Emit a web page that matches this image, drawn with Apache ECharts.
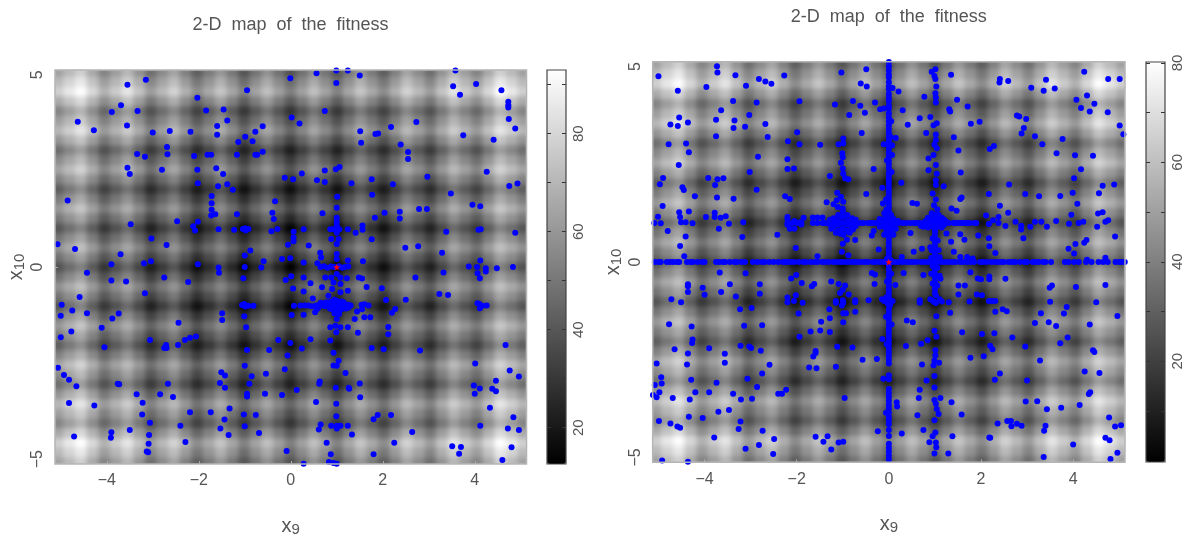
<!DOCTYPE html>
<html><head><meta charset="utf-8">
<style>html,body{margin:0;padding:0;background:#fff}#c{width:1185px;height:539px}</style>
<script src="https://cdn.jsdelivr.net/npm/echarts@6/dist/echarts.min.js"></script>
</head><body><div id="c"></div>
<script>
const titleText='2-D  map  of  the  fitness';
const xTicks=[-4,-2,0,2,4], yTicks=[-5,0,5];
const leftBarLabels=[20,40,60,80], leftBarTicks=[20,30,40,50,60,70,80,90];
const rightBarLabels=[20,40,60,80], rightBarTicks=[10,20,30,40,50,60,70,80];
const gridCats=[-5,-4.75,-4.5,-4.25,-4,-3.75,-3.5,-3.25,-3,-2.75,-2.5,-2.25,-2,-1.75,-1.5,-1.25,-1,-.75,-.5,-.25,0,.25,.5,.75,1,1.25,1.5,1.75,2,2.25,2.5,2.75,3,3.25,3.5,3.75,4,4.25,4.5,4.75,5];
// fitness read from the grey level, rows x10=5 down to x10=0; the map is mirror-symmetric about x10=0
const leftFitnessTop=[
[63,71,78,66,54,62,70,59,47,56,64,53,42,51,60,50,39,49,58,48,38,48,58,49,39,50,60,51,42,53,64,56,47,59,70,62,54,66,78,71,63],
[71,79,86,74,62,70,78,67,55,64,72,61,50,59,68,58,47,57,66,56,46,56,66,57,47,58,68,59,50,61,72,64,55,67,78,70,62,74,86,79,71],
[78,86,93,81,69,77,85,74,62,71,79,68,57,66,75,65,54,64,73,63,53,63,73,64,54,65,75,66,57,68,79,71,62,74,85,77,69,81,93,86,78],
[66,74,81,69,57,65,73,62,50,59,67,56,45,54,63,53,42,52,61,51,41,51,61,52,42,53,63,54,45,56,67,59,50,62,73,65,57,69,81,74,66],
[54,62,69,57,45,53,61,50,38,47,55,44,33,42,51,41,30,40,49,39,29,39,49,40,30,41,51,42,33,44,55,47,38,50,61,53,45,57,69,62,54],
[62,70,77,65,53,61,69,58,46,55,63,52,41,50,59,49,38,48,57,47,37,47,57,48,38,49,59,50,41,52,63,55,46,58,69,61,53,65,77,70,62],
[70,78,85,73,61,69,77,66,54,63,71,60,49,58,67,57,46,56,65,55,45,55,65,56,46,57,67,58,49,60,71,63,54,66,77,69,61,73,85,78,70],
[59,67,74,62,50,58,66,55,43,52,60,49,38,47,56,46,35,45,54,44,34,44,54,45,35,46,56,47,38,49,60,52,43,55,66,58,50,62,74,67,59],
[47,55,62,50,38,46,54,43,31,40,48,37,26,35,44,34,23,33,42,32,22,32,42,33,23,34,44,35,26,37,48,40,31,43,54,46,38,50,62,55,47],
[56,64,71,59,47,55,63,52,40,49,57,46,35,44,53,43,32,42,51,41,31,41,51,42,32,43,53,44,35,46,57,49,40,52,63,55,47,59,71,64,56],
[64,72,79,67,55,63,71,60,48,57,65,54,43,52,61,51,40,50,59,49,39,49,59,50,40,51,61,52,43,54,65,57,48,60,71,63,55,67,79,72,64],
[53,61,68,56,44,52,60,49,37,46,54,43,32,41,50,40,29,39,48,38,28,38,48,39,29,40,50,41,32,43,54,46,37,49,60,52,44,56,68,61,53],
[42,50,57,45,33,41,49,38,26,35,43,32,21,30,39,29,18,28,37,27,17,27,37,28,18,29,39,30,21,32,43,35,26,38,49,41,33,45,57,50,42],
[51,59,66,54,42,50,58,47,35,44,52,41,30,39,48,38,27,37,46,36,26,36,46,37,27,38,48,39,30,41,52,44,35,47,58,50,42,54,66,59,51],
[60,68,75,63,51,59,67,56,44,53,61,50,39,48,57,47,36,46,55,45,35,45,55,46,36,47,57,48,39,50,61,53,44,56,67,59,51,63,75,68,60],
[50,58,65,53,41,49,57,46,34,43,51,40,29,38,47,37,26,36,45,35,25,35,45,36,26,37,47,38,29,40,51,43,34,46,57,49,41,53,65,58,50],
[39,47,54,42,30,38,46,35,23,32,40,29,18,27,36,26,15,25,34,24,14,24,34,25,15,26,36,27,18,29,40,32,23,35,46,38,30,42,54,47,39],
[49,57,64,52,40,48,56,45,33,42,50,39,28,37,46,36,25,35,44,34,24,34,44,35,25,36,46,37,28,39,50,42,33,45,56,48,40,52,64,57,49],
[58,66,73,61,49,57,65,54,42,51,59,48,37,46,55,45,34,44,53,43,33,43,53,44,34,45,55,46,37,48,59,51,42,54,65,57,49,61,73,66,58],
[48,56,63,51,39,47,55,44,32,41,49,38,27,36,45,35,24,34,43,33,23,33,43,34,24,35,45,36,27,38,49,41,32,44,55,47,39,51,63,56,48],
[38,46,53,41,29,37,45,34,22,31,39,28,17,26,35,25,14,24,33,23,13,23,33,24,14,25,35,26,17,28,39,31,22,34,45,37,29,41,53,46,38]];
const rightFitnessTop=[
[50,58,65,53,41,49,57,46,34,43,51,40,29,38,47,37,26,36,45,35,25,35,45,36,26,37,47,38,29,40,51,43,34,46,57,49,41,53,65,58,50],
[58,66,73,61,49,57,65,54,42,51,59,48,37,46,55,45,34,44,53,43,33,43,53,44,34,45,55,46,37,48,59,51,42,54,65,57,49,61,73,66,58],
[65,73,80,68,56,64,72,61,49,58,66,55,44,53,62,52,41,51,60,50,40,50,60,51,41,52,62,53,44,55,66,58,49,61,72,64,56,68,80,73,65],
[53,61,68,56,44,52,60,49,37,46,54,43,32,41,50,40,29,39,48,38,28,38,48,39,29,40,50,41,32,43,54,46,37,49,60,52,44,56,68,61,53],
[41,49,56,44,32,40,48,37,25,34,42,31,20,29,38,28,17,27,36,26,16,26,36,27,17,28,38,29,20,31,42,34,25,37,48,40,32,44,56,49,41],
[49,57,64,52,40,48,56,45,33,42,50,39,28,37,46,36,25,35,44,34,24,34,44,35,25,36,46,37,28,39,50,42,33,45,56,48,40,52,64,57,49],
[57,65,72,60,48,56,64,53,41,50,58,47,36,45,54,44,33,43,52,42,32,42,52,43,33,44,54,45,36,47,58,50,41,53,64,56,48,60,72,65,57],
[46,54,61,49,37,45,53,42,30,39,47,36,25,34,43,33,22,32,41,31,21,31,41,32,22,33,43,34,25,36,47,39,30,42,53,45,37,49,61,54,46],
[34,42,49,37,25,33,41,30,18,27,35,24,13,22,31,21,10,20,29,19,9,19,29,20,10,21,31,22,13,24,35,27,18,30,41,33,25,37,49,42,34],
[43,51,58,46,34,42,50,39,27,36,44,33,22,31,40,30,19,29,38,28,18,28,38,29,19,30,40,31,22,33,44,36,27,39,50,42,34,46,58,51,43],
[51,59,66,54,42,50,58,47,35,44,52,41,30,39,48,38,27,37,46,36,26,36,46,37,27,38,48,39,30,41,52,44,35,47,58,50,42,54,66,59,51],
[40,48,55,43,31,39,47,36,24,33,41,30,19,28,37,27,16,26,35,25,15,25,35,26,16,27,37,28,19,30,41,33,24,36,47,39,31,43,55,48,40],
[29,37,44,32,20,28,36,25,13,22,30,19,8,17,26,16,5,15,24,14,4,14,24,15,5,16,26,17,8,19,30,22,13,25,36,28,20,32,44,37,29],
[38,46,53,41,29,37,45,34,22,31,39,28,17,26,35,25,14,24,33,23,13,23,33,24,14,25,35,26,17,28,39,31,22,34,45,37,29,41,53,46,38],
[47,55,62,50,38,46,54,43,31,40,48,37,26,35,44,34,23,33,42,32,22,32,42,33,23,34,44,35,26,37,48,40,31,43,54,46,38,50,62,55,47],
[37,45,52,40,28,36,44,33,21,30,38,27,16,25,34,24,13,23,32,22,12,22,32,23,13,24,34,25,16,27,38,30,21,33,44,36,28,40,52,45,37],
[26,34,41,29,17,25,33,22,10,19,27,16,5,14,23,13,2,12,21,11,1,11,21,12,2,13,23,14,5,16,27,19,10,22,33,25,17,29,41,34,26],
[36,44,51,39,27,35,43,32,20,29,37,26,15,24,33,23,12,22,31,21,11,21,31,22,12,23,33,24,15,26,37,29,20,32,43,35,27,39,51,44,36],
[45,53,60,48,36,44,52,41,29,38,46,35,24,33,42,32,21,31,40,30,20,30,40,31,21,32,42,33,24,35,46,38,29,41,52,44,36,48,60,53,45],
[35,43,50,38,26,34,42,31,19,28,36,25,14,23,32,22,11,21,30,20,10,20,30,21,11,22,32,23,14,25,36,28,19,31,42,34,26,38,50,43,35],
[25,33,40,28,16,24,32,21,9,18,26,15,4,13,22,12,1,11,20,10,0,10,20,11,1,12,22,13,4,15,26,18,9,21,32,24,16,28,40,33,25]];
const leftBest=[[1,0]], rightBest=[[0,0]];
const leftPoints=[[-3.55,4.74],[-3.15,4.87],[-2.03,4.4],[-.95,4.6],[-.01,4.91],[-3.69,4.21],[-3.89,4.03],[-3.33,4.06],[-1.84,4.07],[-1.46,4.1],[-4.63,3.78],[-4.28,3.56],[-3.56,3.68],[-3,3.5],[-2.63,3.54],[-2.18,3.52],[-1.6,3.67],[-1.6,3.44],[-1.38,3.81],[-.61,3.66],[-.77,3.52],[-.99,3.39],[-.83,3.27],[-1.14,3.25],[.02,3.89],[.19,3.73],[-2.69,3.12],[-2.68,2.93],[-3.34,2.94],[-3.17,2.87],[-2.1,2.89],[-1.81,2.92],[-1.73,2.92],[-1.17,2.92],[-.77,2.92],[-.73,2.92],[-.61,3],[-3.55,2.58],[-3.5,2.42],[-2.8,2.53],[-2.03,2.53],[-1.62,2.57],[-1.47,2.42],[-.13,2.32],[.05,2.28],[-2.02,2.18],[-1.58,2.1],[-1.38,2.15],[-1.26,2.01],[-4.85,1.73],[-1.72,1.85],[-1.72,1.66],[-1.72,1.49],[-1.73,1.34],[-1.64,1.37],[-1.17,1.37],[-.34,1.71],[-.4,1.41],[-.37,1.25],[-3.48,1.11],[-2.47,1.19],[-2.02,1.18],[-2.12,1.06],[-2.08,.95],[-1.57,.98],[-1.23,.97],[-.99,1.01],[-1.04,.99],[-.92,.99],[-.98,.95],[-.42,.93],[-.29,.99],[.06,.92],[.06,.77],[.06,.67],[-.06,.58],[-3.03,.74],[-5.07,.59],[-4.69,.47],[-2.7,.57],[-3.7,.33],[-.88,.43],[-1,.3],[-3.19,.1],[-3.04,.15],[-3.9,.07],[-2.02,.07],[-1.57,-.01],[-1,0],[-.64,-.01],[-.59,.15],[-.19,.21],[-.01,.23],
[-4.43,-.15],[-3.9,-.35],[-3.58,-.38],[-2.75,-.27],[-2.23,-.39],[-1.56,-.15],[-1.03,-.29],[-.11,-.34],[.01,-.24],[.05,-.56],[-3.17,-.68],[-4.59,-.78],[-4.98,-.98],[-1.06,-.99],[-1.01,-.96],[-.92,-1.01],[-.81,-1.01],[-.99,-1.03],[.07,-1.01],[-4.75,-1.13],[-5,-1.27],[-4.43,-1.2],[-3.74,-1.21],[-3.88,-1.34],[-1.49,-1.2],[-1.49,-1.38],[-1.01,-1.28],[.02,-1.25],[-2.44,-1.45],[-4.11,-1.58],[-.97,-1.57],[-4.77,-1.68],[-5,-1.83],[-3.06,-1.9],[-2.06,-1.81],[-2.19,-1.84],[-2.3,-1.9],[-2.45,-2.03],[-2.71,-2.03],[-2.75,-2.11],[-2.7,-2.11],[-4.05,-2.09],[-.95,-2.16],[-.47,-2.16],[-.27,-1.9],[-.01,-1.98],[-.07,-2.3],[-5.06,-2.62],[-4.93,-2.81],[-4.82,-2.93],[-4.66,-3.1],[-3.76,-3.04],[-3.73,-3.05],[-2.67,-3.04],[-1.51,-2.74],[-1.43,-2.82],[-1.54,-3.02],[-1.43,-3.14],[-1,-2.57],[-.85,-2.84],[-.9,-3.04],[-.95,-3.3],[-.95,-3.37],[-.54,-2.78],[-.13,-2.66],[-.56,-3.3],[-.19,-3.33],[.13,-3.2],[-3.35,-3.31],[-2.84,-3.31],[-2.56,-3.38],[-3.22,-3.53],[-4.82,-3.54],[-4.27,-3.6],[-3.23,-3.84],[-2.19,-3.78],[-1.74,-3.78],[-1.33,-3.68],[-1.44,-3.97],[-1.02,-3.84],[-.76,-3.85],[-3.06,-4.05],[-2.4,-4.13],[-1.53,-4.2],[-1,-4.14],[-3.5,-4.24],[-3.9,-4.3],[-3.91,-4.44],[-4.71,-4.41],[-3.08,-4.37],[-1.35,-4.37],[-.69,-4.32],[-3.09,-4.6],[-2.29,-4.55],[-3.13,-4.8],[-3.1,-4.82],[-.09,-4.79],
[.56,5.04],[.99,5.11],[1.24,5.11],[1.5,4.98],[.99,4.79],[3.58,5.11],[3.53,4.7],[3.68,4.48],[4.03,4.76],[4.58,4.6],[4.73,4.3],[4.73,4.21],[4.73,4.15],[4.74,3.85],[4.88,3.6],[.74,4.06],[1.51,3.53],[1.84,3.46],[1.9,3.47],[2.18,3.64],[2.73,3.77],[3.75,3.43],[4.41,3.31],[1.53,3.23],[2.39,3.19],[2.55,2.99],[2.55,2.81],[.74,2.51],[.98,2.54],[1.06,2.6],[.24,2.43],[.57,2.26],[.74,2.21],[1.32,2.18],[1.76,2.28],[2.22,2.15],[2.97,2.35],[4.26,2.48],[4.75,2.11],[4.93,2.17],[1.01,1.83],[1.77,1.88],[3.48,1.91],[3.95,1.62],[4.12,1.58],[1,1.54],[.69,1.4],[2.04,1.41],[2.37,1.44],[2.37,1.26],[2.79,1.51],[2.96,1.51],[1.83,1.28],[1,1.28],[1,1.17],[.86,.98],[.93,.98],[1,.98],[1.06,.98],[1,1.08],[1,.89],[.28,.98],[1.24,.98],[1.56,1.08],[1.56,.97],[1.41,.89],[1.76,.72],[.88,.73],[1.04,.73],[1,.6],[.39,.56],[.64,.37],[.66,.25],[2.49,.5],[2.77,.54],[3.29,.37],[3.38,.92],[4.08,.97],[4.13,.98],[4.88,.89],[4.12,.17],[3.87,.01],[4.05,0],[4.24,-.03],[4.48,-.03],[4.83,0],[1.57,.15],[1,.34],[1,.21],[.58,.1],[1.24,.17],[.28,.12],[.65,0],[.72,.02],[.8,-.02],[.88,.01],[.95,0],[1.05,.02],[1.12,-.02],[1.18,0],[1.25,.01],
[.21,-1],[.3,-1],[.38,-1],[.46,-1.02],[.55,-1],[.62,-.98],[.7,-1],[.75,-1.02],[.8,-1],[.85,-.98],[.9,-1.02],[.95,-1],[1,-1],[1.05,-.98],[1.1,-1.02],[1.15,-1],[1.2,-1],[1.25,-.98],[1.3,-1],[1,-.88],[1,-1.12],[.95,-1.2],[1.05,-1.22],[1,-1.35],[.9,-.9],[1.1,-.9],[.9,-1.1],[1.1,-1.1],[.85,-1.08],[1.15,-.92],[.95,-.85],[1.05,-1.15],[.8,-.92],[1.2,-1.08],[.75,-.93],[1.25,-1.06],[.65,-.93],[.6,-1.06],[1,-.18],[.88,-.27],[1.08,-.27],[.75,-.27],[.93,-.4],[1.08,-.44],[.9,-.57],[1.08,-.66],[1.24,-.62],[.68,-.53],[.43,-.42],[.28,-.64],[.48,-.82],[.82,-.75],[.28,-.27],[1.22,-.29],[1.48,-.27],[1.55,-.3],[1.65,-.52],[1.98,-.55],[2.07,-.86],[2.5,-.85],[2.71,-.27],[3.23,-.7],[3.42,-.73],[3.32,-.14],[4.06,-.16],[4.11,-.29],[4.24,-.12],[4.06,-.94],[4.1,-.96],[4.16,-1.01],[4.26,-1],[4.11,-1.07],[1.44,-1.16],[1.54,-.98],[1.6,-.97],[1.69,-1],[1.55,-1.1],[2.27,-1.09],[2.2,-1.19],[.28,-1.24],[.53,-1.18],[.57,-1.09],[1.39,-1.35],[1.6,-1.31],[1.73,-1.31],[.86,-1.57],[.97,-1.53],[1.08,-1.57],[1.24,-1.57],[1.46,-1.71],[2.12,-1.56],[2.12,-1.75],[.99,-1.7],[.43,-1.88],[.86,-1.91],[.24,-2.12],[.93,-2.23],[1.76,-2.11],[2.02,-2.14],[2.81,-2.17],[4.67,-2.03],[1.04,-2.44],[.93,-2.56],[1,-2.57],[1.19,-2.76],[4.01,-2.51],[4.76,-2.69],[4.96,-2.85],[4.46,-2.96],[.63,-2.98],[.62,-3.04],[1.5,-3.03],[.98,-3.14],[1.26,-3.14],[1.27,-3.17],[3.98,-3.08],[4.11,-3.16],[4,-3.3],[4.38,-3.17],[4.46,-3.23],[1.51,-3.39],[.55,-3.51],[.99,-3.56],[4.33,-3.66],[1.89,-3.85],[1.8,-3.96],[2.18,-3.85],[.99,-3.88],[4.84,-3.91],[.65,-4.1],[.61,-4.23],[.88,-4.13],[1,-4.13],[1.08,-4.13],[1,-4.2],[1.24,-4.13],[4.12,-4.13],[4.72,-4.2],[4.96,-4.24],[1.33,-4.36],[2.64,-4.29],[.78,-4.57],[2.25,-4.57],[3.51,-4.66],[3.7,-4.68],[3.66,-4.86],[4.8,-4.69],[.87,-4.87],[1.8,-4.87],[4.6,-5.02],[.83,-5.07],[.93,-5.1],[1,-5.12],[.28,-5.12]];
const rightRowZeroX=[-5.08,-5,-4.95,-4.82,-4.75,-4.68,-4.6,-4.55,-4.38,-4.3,-4.25,-4.15,-4.05,-4,-3.75,-3.68,-3.6,-3.55,-3.45,-3.35,-3.3,-3.2,-3.12,-2.95,-2.85,-2.75,-2.7,-2.6,-2.5,-2.4,-2.3,-2.25,-2.2,-2.12,-2.05,-1.95,-1.85,-1.8,-1.7,-1.62,-1.55,-1.45,-1.38,-1.3,-1.2,-1.12,-1.05,-.98,-.9,-.82,-.75,-.68,-.6,-.52,-.45,-.35,-.28,-.2,-.12,-.05,.08,.15,.22,.3,.38,.45,.52,.6,.7,.78,.85,.92,1,1.08,1.15,1.22,1.3,1.38,1.45,1.55,1.62,1.7,1.78,1.85,1.98,2.05,2.12,2.22,2.3,2.38,2.45,2.5,2.6,2.68,2.75,2.85,2.95,3,3.12,3.18,3.25,3.35,3.4,3.52,3.82,3.9,4.02,4.12,4.28,4.4,4.55,4.65,4.75,4.92,5,5.05,5.12];
const rightColZeroY=[5.12,5,4.9,4.8,4.72,4.6,4.5,4.42,4.3,4.2,4.12,4,3.92,3.8,3.7,3.6,3.5,3.4,3.3,3.2,3.1,3,2.9,2.8,2.7,2.6,2.5,2.4,2.28,2.2,2.1,2,1.9,1.8,1.7,1.6,1.5,1.4,1.3,1.2,1.1,1,.9,.8,.7,.6,.5,.4,.3,.2,.1,-.1,-.2,-.3,-.4,-.5,-.6,-.7,-.8,-.9,-1,-1.1,-1.2,-1.3,-1.4,-1.5,-1.6,-1.7,-1.8,-1.9,-2,-2.1,-2.2,-2.3,-2.4,-2.5,-2.6,-2.9,-3,-3.25,-3.35,-3.45,-3.55,-3.65,-3.75,-3.85,-3.95,-4.05,-4.15,-4.3,-4.45,-4.65,-4.75,-4.85,-4.95,-5.05];
const rightRowOneX=[-2.2,-2.1,-2,-1.9,-1.65,-1.55,-1.44,-1.38,-1.3,-1.25,-.72,-.62,-.55,-.45,-.4,-.35,-.28,-.2,-.15,-.1,.1,.15,.21,.3,.38,.47,.55,.6,.67,.75,.82,1.3,1.4,1.45,1.5,1.55,1.6,1.65,1.7,1.75,1.85,1.9];
const rightColOneY=[.9,.8,.7,.6,.5,.4,.3,.2,.1,.05,-.05,-.1,-.2,-.3,-.4,-.5,-.6,-.7,-.8];
const rightPoints=[[-1,1],[-1.1,1.05],[-.9,1.05],[-1.1,.95],[-.9,.95],[-1.2,1],[-.8,1],[-1.3,.98],[-.7,1],[-1,1.15],[-1,.85],[-1.1,1.2],[-.9,1.2],[-1.1,.8],[-.9,.8],[-1,1.3],[-1.05,.72],[-1.2,.9],[-.8,.9],[-1.2,1.12],[-.8,1.12],[-1.25,.85],[-.78,.83],[-1.15,.75],[-.85,.75],[-.98,.7],[-1.28,1.08],[-.72,1.08],[-.72,.92],[-2.2,1.1],[-2.2,.95],[-2.15,.85],[-2.05,.85],[-2.05,1.05],[-1.93,1.02],[-1.85,1.13],[-1.65,1.14],[-1.55,1.14],[-1.44,1.14],[-2.2,1.15],[-1.9,.96],[-.1,1.1],[-.1,.9],[.1,1.1],[.1,.9],[-.05,1.2],[.05,1.2],[-.05,.8],[.05,.8],[-.2,1.1],[.2,1.05],[-.2,.9],[.15,.85],[.1,.7],[-.1,1.25],[-.05,1.35],[-.1,.7],
[1,1],[.9,1],[1.1,1],[.95,1.1],[1.05,1.1],[.95,.9],[1.05,.9],[.85,1],[1.15,1],[1,1.2],[1,.8],[1.08,1.2],[.93,1.25],[.8,1.05],[1.2,.95],[1.25,1.03],[1.2,1.08],[.7,.92],[.75,.9],[.85,.88],[1.15,.88],[.85,1.13],[1.15,1.13],[.95,.6],[1.06,.55],[.93,.3],[1.08,.3],[.92,.1],[1.1,.12],[.95,-.1],[1.05,-.15],[.92,-.3],[1.1,-.35],[.95,-.55],[1.05,-.6],[1.02,-.85],[.9,-.95],[1.1,-.95],
[-.1,-1],[-.05,-.9],[.03,-1.1],[-.03,-1.05],[.08,-1],[-.15,-.95],[.04,0.05],[-.04,.08],[.05,3.6],[.04,3.2],[-.04,2.6],[.08,4.45],[.06,2.3],[-.06,1.6],[.05,-.3],[-.04,-.5],[.06,-1.6],[-.05,-2.1],[-.06,-1.4],
[-5,4.75],[-3.73,5.01],[-3.72,4.85],[-3.33,4.78],[-4.58,4.38],[-3.96,4.48],[-3.1,4.51],[-2.82,4.68],[-2.68,4.62],[-2.55,4.56],[-2.27,4.77],[-1.03,4.85],[-.49,4.93],[-.61,4.57],[-.48,4.49],[-3.38,4.12],[-3.64,3.88],[-2.87,4.08],[-3.03,3.76],[-1.94,4.11],[-1.17,4.03],[-.78,4.12],[-.62,4],[-.52,3.82],[-.86,3.76],[-.3,4.08],[-.19,3.91],[-.11,3.93],[-4.55,3.7],[-4.74,3.52],[-4.58,3.48],[-4.36,3.57],[-3.75,3.64],[-3.35,3.62],[-3.37,3.43],[-3.12,3.46],[-2.68,3.53],[-3.75,3.22],[-2.63,3.2],[-1.99,3.32],[-.59,3.3],[-4.78,3.01],[-4.4,3.03],[-4.34,2.81],[-2.19,3.09],[-1.94,3.01],[-1.49,3],[-1.09,3.01],[-.99,3.16],[-.99,3.03],[-.11,3.01],[-2.84,2.69],[-2.2,2.63],[-4.56,2.48],[-2.2,2.38],[-2.06,2.39],[-3.02,2.3],[-1.01,2.78],[-1,2.68],[-1.04,2.54],[-1,2.39],[-.99,2.26],[-.95,2.14],[-1.28,2.2],[-.88,2.12],[-.33,2.38],[-3.92,2.15],[-3.72,2.12],[-3.59,2.14],[-3.77,1.97],[-4.9,2.15],[-4.97,1.99],[-4.48,1.91],[-4.45,1.84],[-2.87,1.85],[-4.21,1.68],[-3.73,1.65],[-3.37,1.62],[-2.25,1.68],[-2.15,1.61],[-1.12,1.77],[-1.04,1.67],[-1.13,1.58],[-.99,1.54],[-1.2,1.48],[-1,1.37],[-1.11,1.41],[-1.35,1.53],[-.49,1.74],[-.14,1.9],[-.13,1.5],[-4.91,1.43],[-4.55,1.27],[-4.34,1.29],[-5.01,1.16],[-5.09,1],[-4.95,.99],[-4.53,1.15],[-4.51,1.02],[-4.41,1.02],[-4.26,.99],[-3.97,1.15],[-3.78,1.26],[-3.78,1.15],[-3.65,1.13],[-3.54,1.17],[-3.69,.85],[-3.47,.98],[-3.16,1.02],[-3.18,.64],[-4.8,.79],[-4.41,.65],[-4.53,.41],[-4.44,.15],[-2.42,.7],[-2.02,.36],[-1.55,.15],[-.33,.79],[-.37,.68],[-.73,.56],[-.91,.57],[-1,.47],[-.22,.32],[-1.02,.26],[-.88,.17],
[-3.67,-.27],[-3.11,-.29],[-4.36,-.57],[-4.36,-.62],[-4.36,-.77],[-4.04,-.66],[-4,-.84],[-3.45,-.57],[-3.64,-.77],[-3.32,-.88],[-2.8,-.57],[-2.8,-.81],[-4.72,-.95],[-4.51,-1.03],[-3.23,-1.21],[-2.98,-1.18],[-2.12,-.42],[-2.01,-.33],[-1.89,-.54],[-1.67,-.62],[-1.62,-.56],[-1.25,-.5],[-1.09,-.56],[-.95,-.6],[-1,-.71],[-1.06,-.79],[-.87,-.83],[-.31,-.56],[-.37,-.28],[-.3,-.32],[-2.2,-.91],[-2.2,-1.03],[-2.06,-1],[-2.02,-.85],[-1.87,-1.04],[-1.15,-1],[-1.15,-1.04],[-1,-.98],[-1.02,-1.11],[-.99,-1.04],[-.73,-.98],[-.73,-1.03],[-.44,-.98],[-.73,-1.27],[-1.96,-1.32],[-1.29,-1.21],[-1.28,-1.44],[-.99,-1.31],[-.93,-1.31],[-.99,-1.54],[-1.47,-1.53],[-4.77,-1.59],[-4.28,-1.65],[-3.14,-1.63],[-2.75,-1.62],[-1.7,-1.78],[-1.49,-1.75],[-1.28,-1.79],[-1.94,-1.91],[-4.26,-1.98],[-4.27,-2.07],[-4.65,-2.23],[-4.36,-2.34],[-3.9,-2.21],[-3.22,-2.14],[-3.03,-2.16],[-2.99,-2.2],[-2.78,-2.27],[-3.56,-2.35],[-3.56,-2.58],[-4.38,-2.62],[-5.04,-2.6],[-2.59,-2.63],[-1.12,-2.17],[-.79,-2.19],[-.14,-1.97],[-1.59,-2.28],[-1.59,-2.33],[-1.64,-2.42],[-.57,-2.5],[-.26,-2.48],[-1.73,-2.7],[-1.57,-2.72],[-1.15,-2.68],[-4.94,-2.95],[-4.93,-3.11],[-5.08,-3.15],[-4.98,-3.33],[-5.12,-3.4],[-5.04,-3.46],[-4.69,-3.48],[-4.29,-3.01],[-4.2,-3.33],[-4.32,-3.52],[-3.9,-3.33],[-3.74,-3.09],[-3.07,-2.99],[-2.75,-2.85],[-2.86,-3.2],[-3.38,-3.37],[-3.21,-3.52],[-2.97,-3.5],[-2.4,-3.37],[-2.32,-3.37],[-2.23,-3.27],[-.96,-3.48],[-.12,-2.99],[-4.99,-4.07],[-4.74,-4.13],[-4.59,-4.21],[-4.53,-4.24],[-4.34,-3.96],[-4.04,-3.99],[-3.7,-3.83],[-3.47,-3.79],[-3.22,-4.08],[-3.26,-4.27],[-2.74,-4.32],[-3.79,-4.49],[-3.11,-4.78],[-2.82,-4.68],[-2.49,-4.53],[-2.51,-4.91],[-1.59,-4.47],[-1.42,-4.6],[-1.33,-4.46],[-1.09,-4.62],[-.99,-4.6],[-1.25,-4.8],[-.24,-4.33],[-4.92,-5.08],[-4.36,-5.11],[-.06,-3.86],
[.93,4.87],[1.01,4.93],[.99,4.76],[1.01,4.68],[1.03,4.49],[1.01,4.32],[1.02,4.21],[1.02,4.08],[1.35,4.79],[.21,4.36],[.77,4.23],[1.48,4.15],[.3,3.88],[1.31,3.91],[1.33,3.85],[1.71,3.98],[.67,3.68],[.9,3.71],[.41,3.51],[1.04,3.55],[.97,3.5],[.81,3.3],[1.02,3.26],[1.41,3.19],[1.78,3.54],[1.97,3.59],[1.02,3.12],[.99,3],[1.04,2.91],[.97,2.74],[.86,2.65],[1.02,2.48],[.86,2.35],[1.04,2.26],[1.02,2.09],[1.02,1.97],[1.19,1.94],[1.51,2.85],[1.56,2.29],[.27,2.03],[.15,3.17],[.07,2.99],[.07,2.74],[2.41,4.68],[2.4,4.59],[2.59,4.63],[3.09,4.46],[3.36,4.38],[3.41,4.66],[3.6,4.44],[4.24,4.87],[4.76,4.68],[5.01,4.68],[4.3,4.26],[4.07,4.15],[4.46,4.05],[4.17,3.94],[4.36,3.85],[4.75,3.83],[5.01,3.49],[5.09,3.27],[2.78,3.75],[2.83,3.72],[2.98,3.66],[2.93,3.43],[2.88,3.29],[3.17,3.22],[3.33,3.01],[3.77,3.15],[3.64,2.78],[4.04,2.73],[4.43,2.72],[4.17,2.37],[2.19,2.89],[2.28,2.97],[4.02,2.14],[2.61,1.98],[2.17,1.74],[4.89,1.98],[4.64,1.95],[4.56,1.76],[3.99,1.77],[2.96,1.74],[3.26,1.68],[3.72,1.69],[4.09,1.49],[2.41,1.44],[2.59,1.26],[3.96,1.21],[4.54,1.24],[4.64,1.27],[.51,1.51],[.61,1.49],[1.55,1.61],[1.58,1.65],[1.36,1.37],[1.47,1.31],[2.11,1.19],[.95,1.75],[1.02,1.6],[.98,1.45],[1.05,1.35],[2.17,.97],[2.26,1.07],[2.38,1.15],[2.38,1],[2.53,.92],[2.75,1.03],[2.87,.93],[2.87,.83],[3.07,.9],[3.17,1.03],[3.31,1.03],[3.43,.9],[3.63,1.05],[3.91,.98],[4.12,1],[4.22,1.03],[4.52,.9],[4.7,1.03],[4.76,1.07],[.47,.74],[1.25,.73],[1.35,.52],[1.55,.71],[1.64,.57],[1.94,.68],[2.17,.61],[2.18,.4],[2.31,.23],[2.92,.61],[4.05,.46],[4.24,.49],[4.29,.56],[3.9,.34],[4.02,.22],[4.91,.65],[.72,.34],[.54,.26],[1.41,.26],[.9,.38],[1.55,.13],[1.7,.13],[1.82,.09],[4.3,.06],[4.7,.11],[.28,.13],
[.14,-.59],[1.51,-.6],[1.65,-.6],[1.51,-.83],[1.91,-.83],[2.02,-.85],[1.93,-.42],[2,-.44],[2.18,-.37],[2.18,-.44],[2.53,-.43],[1.77,-.26],[1.12,-.43],[.75,-.33],[.32,-.28],[3.49,-.66],[3.54,-.6],[4.06,-.64],[4.7,-.59],[.67,-.98],[.67,-1.04],[.99,-1.03],[1.02,-1.05],[.96,-1],[1.15,-1.01],[1.3,-1.03],[1.75,-1.01],[2.17,-1],[2.24,-1],[2.31,-1],[3.5,-1.02],[4.5,-1.03],[3.86,-1.15],[1.33,-1.3],[2.31,-1.27],[2.47,-1.21],[2.56,-1.26],[3.8,-1.32],[3.3,-1.31],[4.96,-1.38],[1.03,-1.39],[.39,-1.5],[.52,-1.54],[3.17,-1.56],[3.47,-1.54],[3.63,-1.64],[4.36,-1.6],[.99,-1.76],[1.03,-1.91],[.84,-2],[.7,-2.09],[.37,-2.15],[1.59,-1.8],[2.02,-1.84],[2.29,-1.82],[2.68,-1.93],[2.2,-2.14],[2.25,-2.23],[2.96,-2.16],[3.72,-2.08],[3.88,-1.93],[4.43,-2.26],[4.46,-2.3],[1.01,-2.26],[1.01,-2.39],[.99,-2.52],[.97,-2.64],[1.09,-2.58],[.72,-2.62],[1.77,-2.45],[2.06,-2.41],[3.28,-2.52],[.99,-2.92],[.82,-3.03],[2.3,-3.01],[2.41,-2.85],[3,-3.03],[4.25,-2.8],[4.57,-2.84],[.99,-3.21],[.67,-3.27],[.65,-3.48],[4.37,-3.33],[4.34,-3.38],[1.12,-3.48],[.99,-3.53],[1.02,-3.63],[1.04,-3.76],[1.08,-3.89],[1.36,-3.59],[.17,-3.59],[.18,-3.7],[2.97,-3.57],[3.22,-3.56],[3.43,-3.77],[3.74,-3.73],[4.14,-3.66],[.62,-3.92],[1.58,-3.9],[.99,-4.05],[2.36,-4.13],[2.57,-4.07],[2.65,-4.07],[2.66,-4.2],[2.78,-4.14],[2.88,-4.19],[3.4,-4.19],[3.37,-4.32],[4.78,-3.98],[4.91,-4.21],[5.04,-4.18],[.75,-4.3],[.28,-4.39],[1.01,-4.36],[.95,-4.46],[1.02,-4.62],[.88,-4.61],[1.03,-4.74],[1.38,-4.46],[2.18,-4.49],[2.2,-4.5],[4,-4.67],[4.7,-4.5],[4.79,-4.56],[.99,-4.9],[1.29,-4.9],[4.96,-4.88],[3.36,-4.99],[4.81,-5.04]];

const starPath='path://M50 0L61 35L98 35L68 57L79 91L50 70L21 91L32 57L2 35L39 35Z';
const font='"Liberation Sans"', ink='#555';
const minus=v=>String(v).replace('-','\u2212');
const table=top=>{const rows=[...top,...top.slice(0,-1).reverse()],d=[];
  rows.forEach((r,i)=>r.forEach((v,j)=>d.push([j,i,v])));return d;};
const nameRich={a:{fontFamily:font,fontSize:20,color:ink,padding:[0,0,7,0]},b:{fontFamily:font,fontSize:15,color:ink}};
const panels=[
 {rect:{left:55,top:70,width:471.5,height:394},bar:{left:547,top:70,width:19,height:394},range:[12.6,93],labels:leftBarLabels,ticks:leftBarTicks,fit:leftFitnessTop,best:leftBest,
  pts:leftPoints,cx:285.5,ty:11,xGap:52,yGap:22},
 {rect:{left:652.7,top:61.7,width:472.3,height:400.6},bar:{left:1146,top:62,width:19,height:400},range:[-.3,80.2],labels:rightBarLabels,ticks:rightBarTicks,fit:rightFitnessTop,best:rightBest,
  pts:[...rightPoints,...rightRowZeroX.map(x=>[x,0]),...rightColZeroY.map(y=>[0,y]),...rightRowOneX.map(x=>[x,1]),...rightColOneY.map(y=>[1,y])],cx:883.8,ty:3,xGap:52,yGap:22}];
const grid=[],xAxis=[],yAxis=[],series=[],visualMap=[],title=[];
const top1={zlevel:1}, free={outerBoundsMode:'none'}, over=3;
panels.forEach((p,k)=>{
  const g=grid.length,xi=xAxis.length,yi=yAxis.length,r=p.rect;
  title.push({...top1,text:titleText,left:p.cx,top:p.ty,textAlign:'center',textStyle:{fontFamily:font,fontSize:18,fontWeight:'normal',color:ink}});
  grid.push({...free,left:r.left-over,top:r.top-over,width:r.width+2*over,height:r.height+2*over});
  grid.push({...top1,...free,...r,show:true,borderColor:'#b4b4b4',borderWidth:1.5,backgroundColor:'transparent',z:5});
  grid.push({...top1,...free,...p.bar,show:true,borderColor:'#444',borderWidth:1.2,backgroundColor:'transparent',z:5});
  xAxis.push({gridIndex:g,type:'category',data:gridCats,show:false});
  yAxis.push({gridIndex:g,type:'category',data:gridCats,show:false});
  xAxis.push({...top1,gridIndex:g+1,type:'value',min:-5.125,max:5.125,position:'bottom',z:3,splitLine:{show:false},axisLine:{show:false,onZero:false},
    axisTick:{show:true,inside:true,length:3,customValues:xTicks,lineStyle:{color:'#aaa'}},
    axisLabel:{customValues:xTicks,formatter:minus,fontFamily:font,fontSize:16,color:ink,margin:9},
    name:'{a|x}{b|9}',nameLocation:'middle',nameGap:p.xGap,nameTextStyle:{rich:nameRich}});
  yAxis.push({...top1,gridIndex:g+1,type:'value',min:-5.125,max:5.125,position:'left',z:3,splitLine:{show:false},axisLine:{show:false,onZero:false},
    axisTick:{show:true,inside:true,length:3,customValues:yTicks,lineStyle:{color:'#aaa'}},
    axisLabel:{customValues:yTicks,formatter:minus,rotate:90,fontFamily:font,fontSize:16,color:ink,margin:9},
    name:'{a|x}{b|10}',nameLocation:'middle',nameRotate:90,nameGap:p.yGap,nameTextStyle:{rich:nameRich}});
  xAxis.push({gridIndex:g+2,type:'value',min:0,max:1,show:false});
  yAxis.push({...top1,gridIndex:g+2,type:'value',min:p.range[0],max:p.range[1],position:'left',z:3,splitLine:{show:false},axisLine:{show:false,onZero:false},
    axisTick:{show:true,inside:true,length:4,customValues:p.ticks,lineStyle:{color:'#333'}},axisLabel:{show:false}});
  yAxis.push({...top1,gridIndex:g+2,type:'value',min:p.range[0],max:p.range[1],position:'right',z:3,splitLine:{show:false},axisLine:{show:false,onZero:false},
    axisTick:{show:true,inside:true,length:4,customValues:p.ticks,lineStyle:{color:'#333'}},
    axisLabel:{customValues:p.labels,rotate:90,fontFamily:font,fontSize:15,color:ink,margin:5}});
  const hs=series.length;
  series.push({type:'heatmap',xAxisIndex:xi,yAxisIndex:yi,data:table(p.fit),silent:true,itemStyle:{borderWidth:0},emphasis:{disabled:true},progressive:0,animation:false});
  series.push({...top1,type:'scatter',xAxisIndex:xi+1,yAxisIndex:yi+1,data:p.pts,symbol:'circle',symbolSize:6,itemStyle:{color:'#0000ff',opacity:1},silent:true,animation:false,z:3});
  series.push({...top1,type:'scatter',xAxisIndex:xi+1,yAxisIndex:yi+1,data:p.best,symbol:starPath,symbolSize:7,itemStyle:{color:'#ff0000',opacity:1},silent:true,animation:false,z:4});
  series.push({...top1,type:'scatter',xAxisIndex:xi+2,yAxisIndex:yi+2,data:[],silent:true});
  visualMap.push({...top1,type:'continuous',seriesIndex:hs,min:p.range[0],max:p.range[1],left:p.bar.left,top:p.bar.top,itemWidth:p.bar.width,itemHeight:p.bar.height,padding:0,calculable:false,hoverLink:false,inRange:{color:['#000000','#ffffff']},z:1});
});
const chart=echarts.init(document.getElementById('c'),null,{renderer:'canvas'});
chart.setOption({animation:false,backgroundColor:'#fff',tooltip:{show:false},title,grid,xAxis,yAxis,visualMap,series});
// the source map is a soft raster: soften only the canvas layer holding the two heatmaps, cut to the plot frames
const frames=panels.map(p=>{const r=p.rect;return `M${r.left} ${r.top}H${r.left+r.width}V${r.top+r.height}H${r.left}Z`;}).join(' ');
const soften=()=>{const c=document.querySelector('#c canvas[data-zr-dom-id="zr_0"]');if(c){c.style.filter='blur(2.5px)';c.style.clipPath=`path('${frames}')`;}};
soften();chart.on('finished',soften);
</script></body></html>
